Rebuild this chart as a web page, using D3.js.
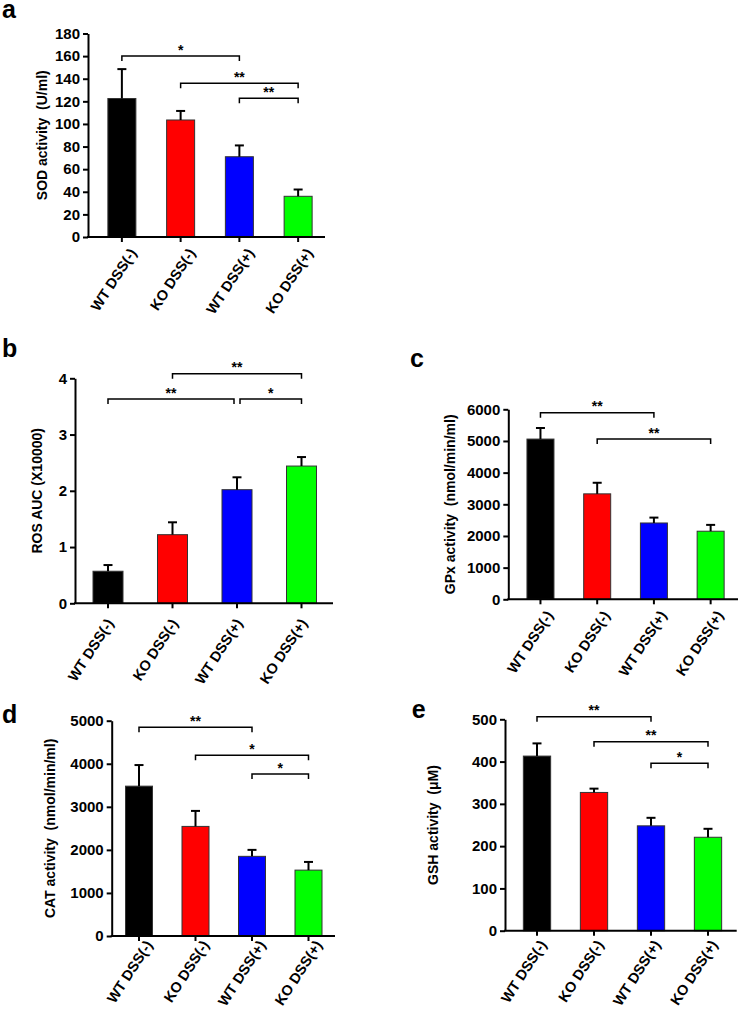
<!DOCTYPE html>
<html><head><meta charset="utf-8">
<script src="https://cdn.jsdelivr.net/npm/d3@7"></script>
<style>body{margin:0;background:#fff} text{font-family:"Liberation Sans",Arial,sans-serif;}</style></head>
<body><svg id="chart" width="740" height="1009"></svg>
<script>
const categories = ["WT DSS(-)", "KO DSS(-)", "WT DSS(+)", "KO DSS(+)"];
const barColors = ["#000000", "#ff0000", "#0000ff", "#00ff00"];

const sodValues = [122.5, 103.5, 71, 36];
const sodErrors = [26, 8, 10, 6];
const sodTicks = [0, 20, 40, 60, 80, 100, 120, 140, 160, 180];
const sodSig = [{from:0, to:2, level:160, label:"*"}, {from:1, to:3, level:136, label:"**"}, {from:2, to:3, level:122.7, label:"**"}];

const rosValues = [0.57, 1.22, 2.02, 2.44];
const rosErrors = [0.11, 0.22, 0.22, 0.16];
const rosTicks = [0, 1, 2, 3, 4];
const rosSig = [{from:1, to:3, level:4.08, label:"**"}, {from:0, to:2, level:3.63, label:"**"}, {from:2, to:3, level:3.63, label:"*"}];

const gpxValues = [5060, 3330, 2410, 2150];
const gpxErrors = [350, 350, 170, 200];
const gpxTicks = [0, 1000, 2000, 3000, 4000, 5000, 6000];
const gpxSig = [{from:0, to:2, level:5890, label:"**"}, {from:1, to:3, level:5060, label:"**"}];

const catValues = [3480, 2545, 1850, 1530];
const catErrors = [490, 360, 150, 190];
const catTicks = [0, 1000, 2000, 3000, 4000, 5000];
const catSig = [{from:0, to:2, level:4845, label:"**"}, {from:1, to:3, level:4200, label:"*"}, {from:2, to:3, level:3760, label:"*"}];

const gshValues = [413, 327, 248, 221];
const gshErrors = [30, 9, 19, 20];
const gshTicks = [0, 100, 200, 300, 400, 500];
const gshSig = [{from:0, to:2, level:506, label:"**"}, {from:1, to:3, level:447, label:"**"}, {from:2, to:3, level:396, label:"*"}];

const panels = [
  {letter:"a", values:sodValues, errors:sodErrors, ticks:sodTicks, sig:sodSig, title:"SOD activity  (U/ml)",
   axisX:88, bottom:237, top:33.5, range:[92.5,327.5], axisEnd:325, titleX:42, letterX:2, letterY:18, lab:[11,13], barW:28},
  {letter:"b", values:rosValues, errors:rosErrors, ticks:rosTicks, sig:rosSig, title:"ROS AUC (X10000)",
   axisX:75, bottom:603.3, top:378.3, range:[75.75,333.75], axisEnd:333, titleX:37, letterX:2, letterY:357, lab:[2,17], barW:30},
  {letter:"c", values:gpxValues, errors:gpxErrors, ticks:gpxTicks, sig:gpxSig, title:"GPx activity  (nmol/min/ml)",
   axisX:508.3, bottom:599.3, top:409.3, range:[512.1,739], axisEnd:738, titleX:450, letterX:410, letterY:367, lab:[9,13], barW:27},
  {letter:"d", values:catValues, errors:catErrors, ticks:catTicks, sig:catSig, title:"CAT activity  (nmol/min/ml)",
   axisX:111.7, bottom:936, top:720.7, range:[110.75,336.75], axisEnd:335, titleX:50, letterX:2, letterY:723, lab:[10,6], barW:27},
  {letter:"e", values:gshValues, errors:gshErrors, ticks:gshTicks, sig:gshSig, title:"GSH activity  (\u03bcM)",
   axisX:505, bottom:930.7, top:719.3, range:[508.5,736.5], axisEnd:736.7, titleX:433.3, letterX:411.7, letterY:718, lab:[6,11], barW:27.3}
];

const svg = d3.select("#chart");

panels.forEach(p => {
  const g = svg.append("g");
  const y = d3.scaleLinear().domain([0, d3.max(p.ticks)]).range([p.bottom, p.top]);
  const x = d3.scaleBand().domain(categories).range(p.range);
  const cx = i => x(categories[i]) + x.bandwidth() / 2;

  // bars
  g.selectAll("rect.bar").data(p.values).join("rect")
    .attr("x", (d, i) => cx(i) - p.barW / 2)
    .attr("y", d => y(d))
    .attr("width", p.barW)
    .attr("height", d => p.bottom - y(d))
    .attr("fill", (d, i) => barColors[i])
    .attr("stroke", "#333").attr("stroke-width", 1);

  // error bars (upper only)
  p.values.forEach((v, i) => {
    const yt = y(v + p.errors[i]);
    g.append("line").attr("x1", cx(i)).attr("x2", cx(i)).attr("y1", y(v)).attr("y2", yt)
      .attr("stroke", "#000").attr("stroke-width", 2);
    g.append("line").attr("x1", cx(i) - 4.5).attr("x2", cx(i) + 4.5).attr("y1", yt).attr("y2", yt)
      .attr("stroke", "#000").attr("stroke-width", 2);
  });

  // y axis
  const ya = g.append("g").attr("transform", `translate(${p.axisX},0)`)
    .call(d3.axisLeft(y).tickValues(p.ticks).tickFormat(d3.format("d")).tickSize(5).tickSizeOuter(0).tickPadding(3));
  ya.select(".domain").attr("stroke-width", 2);
  ya.selectAll(".tick line").attr("stroke-width", 2);
  ya.selectAll("text").attr("font-size", 15).attr("font-weight", "bold").attr("fill", "#000")
    .style("font-family", '"Liberation Sans", Arial, sans-serif');

  // x axis
  const xa = g.append("g").attr("transform", `translate(0,${p.bottom})`)
    .call(d3.axisBottom(x).tickSize(5).tickSizeOuter(0).tickFormat(""));
  xa.select(".domain").remove();
  xa.selectAll(".tick line").attr("stroke-width", 2);
  g.append("line").attr("x1", p.axisX - 1).attr("x2", p.axisEnd).attr("y1", p.bottom).attr("y2", p.bottom)
    .attr("stroke", "#000").attr("stroke-width", 2);

  // x labels
  categories.forEach((c, i) => {
    const ax = cx(i) + p.lab[0], ay = p.bottom + p.lab[1];
    g.append("text").attr("x", ax).attr("y", ay).attr("dy", "0.35em")
      .attr("text-anchor", "end").attr("font-size", 14.5).attr("font-weight", "bold")
      .attr("transform", `rotate(-57,${ax},${ay})`).text(c);
  });

  // y title
  const ty = (p.top + p.bottom) / 2;
  g.append("text").attr("x", p.titleX).attr("y", ty).attr("dy", "0.35em")
    .attr("text-anchor", "middle").attr("font-size", 14).attr("font-weight", "bold")
    .style("white-space", "pre")
    .attr("transform", `rotate(-90,${p.titleX},${ty})`).text(p.title);

  // panel letter
  g.append("text").attr("x", p.letterX).attr("y", p.letterY).attr("font-size", 25)
    .attr("font-weight", "bold").text(p.letter);

  // significance brackets
  p.sig.forEach(s => {
    let x1 = cx(s.from), x2 = cx(s.to);
    if (p.sig.some(o => o !== s && o.level === s.level && o.from === s.to)) x2 -= 3;
    if (p.sig.some(o => o !== s && o.level === s.level && o.to === s.from)) x1 += 3;
    const yl = y(s.level);
    g.append("path").attr("d", `M${x1},${yl + 5}V${yl}H${x2}V${yl + 5}`)
      .attr("fill", "none").attr("stroke", "#000").attr("stroke-width", 1.5);
    g.append("text").attr("x", (x1 + x2) / 2).attr("y", yl - 1.5).attr("text-anchor", "middle")
      .attr("font-size", 14).attr("font-weight", "bold").text(s.label);
  });
});
</script></body></html>
